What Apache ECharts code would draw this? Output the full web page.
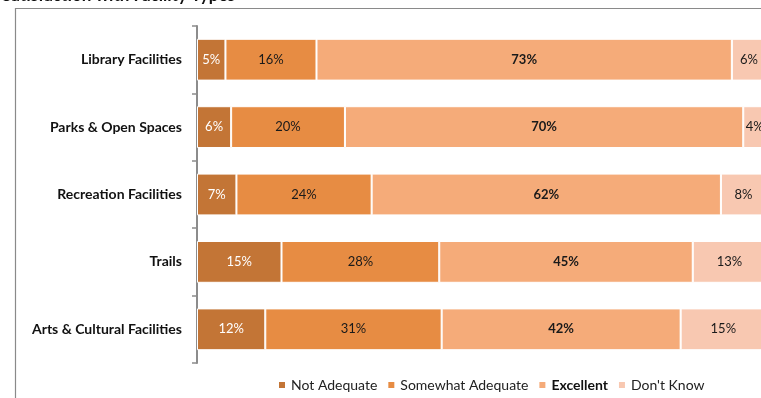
<!DOCTYPE html>
<html>
<head>
<meta charset="utf-8">
<script src="https://cdn.jsdelivr.net/npm/echarts@6/dist/echarts.min.js"></script>
<style>
  html, body { margin: 0; padding: 0; background: #fff; overflow: hidden; }
  /* the plot runs slightly past the right edge of the window */
  #chart { width: 775px; height: 398px; }
</style>
</head>
<body>
<div id="chart"></div>
<script>
// Facility types, listed top to bottom
const categories = ['Library Facilities', 'Parks & Open Spaces', 'Recreation Facilities', 'Trails', 'Arts & Cultural Facilities'];

// Response shares (%) per facility type
const notAdequate      = [5, 6, 7, 15, 12];
const somewhatAdequate = [16, 20, 24, 28, 31];
const excellent        = [73, 70, 62, 45, 42];
const dontKnow         = [6, 4, 8, 13, 15];

const seriesNames = ['Not Adequate', 'Somewhat Adequate', 'Excellent', "Don't Know"];
const seriesColors = ['#C37536', '#E78C43', '#F5AB79', '#F8C8B1'];
const seriesValues = [notAdequate, somewhatAdequate, excellent, dontKnow];

// 100% stacked: each row is scaled by its own total (rounded shares can sum to 101)
const rowTotals = categories.map((_, r) => seriesValues.reduce((s, arr) => s + arr[r], 0));

const FONT = 'Lato, "Open Sans", sans-serif';

const chart = echarts.init(document.getElementById('chart'), null, { renderer: 'canvas' });

const series = seriesNames.map((name, i) => ({
  name: name,
  type: 'bar',
  stack: 'total',
  barWidth: '62%',
  data: seriesValues[i].map((v, r) => ({ value: v / rowTotals[r] * 100, raw: v })),
  itemStyle: { color: seriesColors[i], borderColor: '#ffffff', borderWidth: 1 },
  label: {
    show: true,
    position: 'inside',
    formatter: p => p.data.raw + '%',
    fontFamily: FONT,
    fontSize: 13,
    fontWeight: i === 2 ? 'bold' : 'normal',
    color: i === 0 ? '#ffffff' : '#1a1a1a'
  },
  emphasis: { disabled: true }
}));

chart.setOption({
  animation: false,
  backgroundColor: '#ffffff',
  grid: { left: 197, top: 26, width: 569, height: 337, containLabel: false },
  xAxis: {
    type: 'value',
    min: 0,
    max: 100,
    show: false
  },
  yAxis: {
    type: 'category',
    inverse: true,
    data: categories,
    axisLine: { show: true, lineStyle: { color: '#8c8c8c', width: 2 } },
    axisTick: { show: true, length: 5, lineStyle: { color: '#8c8c8c', width: 1.5 } },
    axisLabel: {
      margin: 15,
      fontFamily: FONT,
      fontSize: 14,
      fontWeight: 'bold',
      color: '#111111'
    }
  },
  legend: {
    left: 277,
    top: 378,
    padding: 0,
    icon: 'rect',
    itemWidth: 8,
    itemHeight: 8,
    itemGap: 9,
    textStyle: { fontFamily: FONT, fontSize: 14, color: '#222222' },
    data: seriesNames.map((n, i) => i === 2
      ? { name: n, textStyle: { fontWeight: 'bold', color: '#111111' } }
      : { name: n })
  },
  graphic: [
    {
      type: 'rect',
      silent: true,
      shape: { x: 15.5, y: 8.5, width: 900, height: 600 },
      style: { fill: 'none', stroke: '#8a8a8a', lineWidth: 1.2 }
    },
    {
      type: 'text',
      silent: true,
      x: 2,
      y: 4,
      style: {
        text: 'Satisfaction with Facility Types',
        font: 'bold 17px ' + FONT,
        fill: '#111111',
        textVerticalAlign: 'bottom'
      }
    }
  ],
  series: series
});
</script>
</body>
</html>
